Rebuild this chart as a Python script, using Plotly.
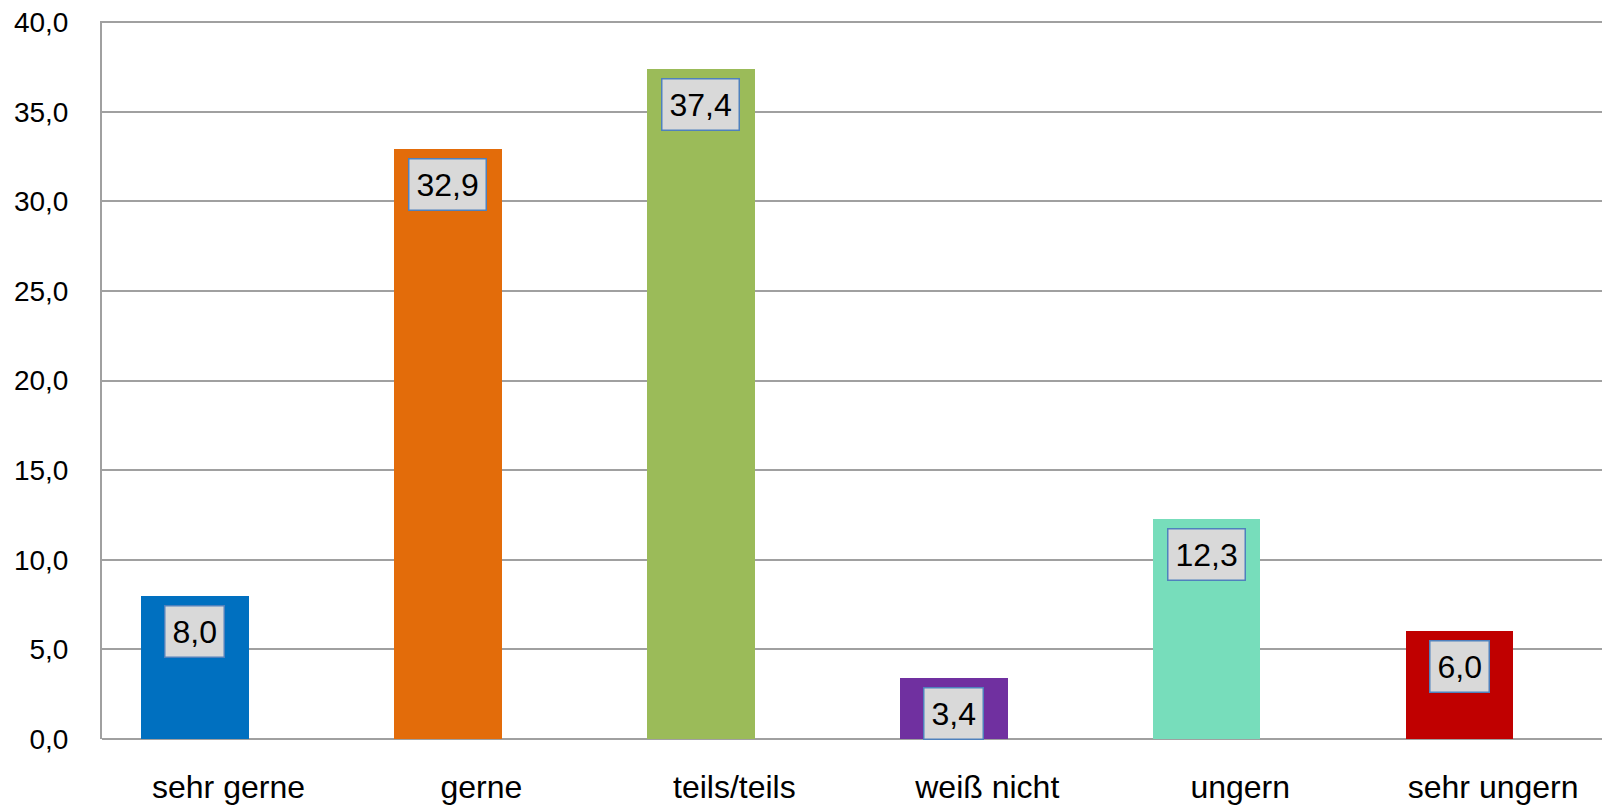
import plotly.graph_objects as go

categories = ["sehr gerne", "gerne", "teils/teils", "weiß nicht", "ungern", "sehr ungern"]
values = [8.0, 32.9, 37.4, 3.4, 12.3, 6.0]
colors = ["#0070C0", "#E36C0A", "#9BBB59", "#7030A0", "#77DDBB", "#C00000"]
y_ticks = [0, 5, 10, 15, 20, 25, 30, 35, 40]

bar_offset = -0.346
bar_width = 0.426
idx = list(range(len(categories)))

fig = go.Figure()
fig.add_trace(go.Bar(
    x=idx, y=values, marker=dict(color=colors, line=dict(width=0)),
    offset=bar_offset, width=bar_width, showlegend=False, hoverinfo="skip",
))

for i, v in zip(idx, values):
    fig.add_annotation(
        x=i + bar_offset + bar_width / 2, y=v, xref="x", yref="y",
        text=f"{v:.1f}".replace(".", ","), showarrow=False,
        yanchor="top", yshift=-9,
        font=dict(family="Liberation Sans, Arial", size=32, color="black"),
        bgcolor="#D9D9D9", bordercolor="#4F81BD", borderwidth=1.5, borderpad=7,
    )

# page body has an 8px default margin, so the figure is sized to fill the rest
fig.update_layout(
    width=1602, height=801,
    margin=dict(l=94, r=0, t=13, b=70, autoexpand=False),
    paper_bgcolor="white", plot_bgcolor="white",
    separators=",.",
    bargap=0,
    font=dict(family="Liberation Sans, Arial", size=28, color="black"),
)
fig.update_xaxes(
    range=[-0.5, 5.462], tickvals=idx, ticktext=categories,
    showgrid=False, showline=False, zeroline=False, ticks="",
    ticklabelstandoff=26, tickfont=dict(size=32), automargin=False,
)
fig.update_yaxes(
    range=[0, 40.06], tickvals=y_ticks, tickformat=".1f",
    showgrid=True, gridcolor="#A0A0A0", gridwidth=2,
    showline=True, linecolor="#A0A0A0", linewidth=2,
    zeroline=True, zerolinecolor="#A0A0A0", zerolinewidth=2,
    ticks="", ticklabelstandoff=26, tickfont=dict(size=28), automargin=False,
    ticklabeloverflow="allow",
)

fig.write_html("out.html")
